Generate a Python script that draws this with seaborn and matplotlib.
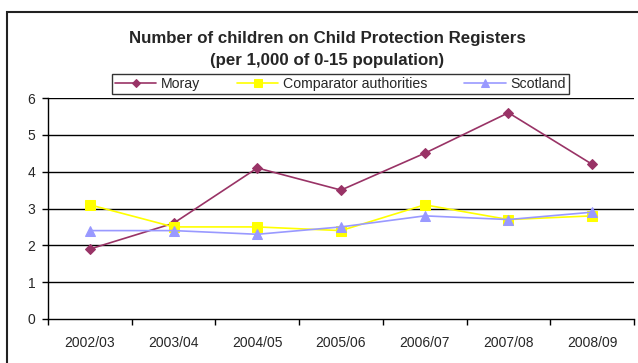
import matplotlib
matplotlib.use("Agg")
import matplotlib.pyplot as plt
import matplotlib.patches as mpatches
import seaborn as sns
import pandas as pd

years = ["2002/03", "2003/04", "2004/05", "2005/06", "2006/07", "2007/08", "2008/09"]
moray = [1.9, 2.6, 4.1, 3.5, 4.5, 5.6, 4.2]
comparator = [3.1, 2.5, 2.5, 2.4, 3.1, 2.7, 2.8]
scotland = [2.4, 2.4, 2.3, 2.5, 2.8, 2.7, 2.9]

series_names = ["Moray", "Comparator authorities", "Scotland"]
series_colors = ["#993366", "#FFFF00", "#9999FF"]
series_markers = ["D", "s", "^"]
series_sizes = [5.5, 6.5, 7]

df = pd.DataFrame({
    "year": years * 3,
    "value": moray + comparator + scotland,
    "series": [series_names[0]] * 7 + [series_names[1]] * 7 + [series_names[2]] * 7,
})

sns.set_style("white")
plt.rcParams["font.family"] = ["Liberation Sans", "DejaVu Sans"]

fig = plt.figure(figsize=(6.38, 3.63), dpi=100)
ax = fig.add_axes([48 / 638, 1 - 319 / 363, 586 / 638, 221 / 363])

for name, color, marker, ms in zip(series_names, series_colors, series_markers, series_sizes):
    sub = df[df["series"] == name]
    sns.lineplot(data=sub, x="year", y="value", ax=ax, color=color, marker=marker,
                 markersize=ms, markeredgecolor=color, linewidth=1.2, label=name,
                 sort=False, zorder=3)

ax.set_xlim(-0.5, 6.5)
ax.set_ylim(0, 6)
ax.set_xlabel("")
ax.set_ylabel("")

# Category boundaries carry the tick marks; labels sit at the category centres
ax.set_xticks([i - 0.5 for i in range(8)])
ax.set_xticklabels([])
ax.set_xticks(range(7), minor=True)
ax.set_xticklabels(years, minor=True)
ax.tick_params(axis="x", which="major", direction="out", length=4, width=1, color="black", bottom=True)
ax.tick_params(axis="x", which="minor", length=0, pad=12, labelsize=10)

ax.set_yticks(range(7))
ax.tick_params(axis="y", direction="out", length=4, width=1, color="black", left=True, labelsize=10, pad=5)

ax.grid(False)
for v in range(1, 7):
    ax.axhline(v, color="black", linewidth=1, zorder=1)

for side in ["top", "right"]:
    ax.spines[side].set_visible(False)
for side in ["left", "bottom"]:
    ax.spines[side].set_color("black")
    ax.spines[side].set_linewidth(1)

ax.get_legend().remove()
handles, labels = ax.get_legend_handles_labels()
leg = fig.legend(handles, labels, loc="center", bbox_to_anchor=(340.5 / 638, 1 - 84 / 363),
                 ncol=3, frameon=True, fancybox=False, fontsize=10.2, handlelength=2.9,
                 handletextpad=0.35, columnspacing=2.6, borderpad=0.2, borderaxespad=0,
                 markerscale=0.8)
leg.get_frame().set_edgecolor("black")
leg.get_frame().set_linewidth(1)

fig.text(327 / 638, 1 - 38 / 363, "Number of children on Child Protection Registers",
         ha="center", va="center", fontsize=12.2, fontweight="bold")
fig.text(327 / 638, 1 - 60 / 363, "(per 1,000 of 0-15 population)",
         ha="center", va="center", fontsize=12.2, fontweight="bold")

# Chart frame, open on the right and bottom edges
frame = mpatches.Rectangle((7 / 638, -0.5), 2, 1.5 - 12 / 363, transform=fig.transFigure,
                           fill=False, edgecolor="#222222", linewidth=1.5)
fig.patches.append(frame)

fig.savefig("out.png", dpi=100)
